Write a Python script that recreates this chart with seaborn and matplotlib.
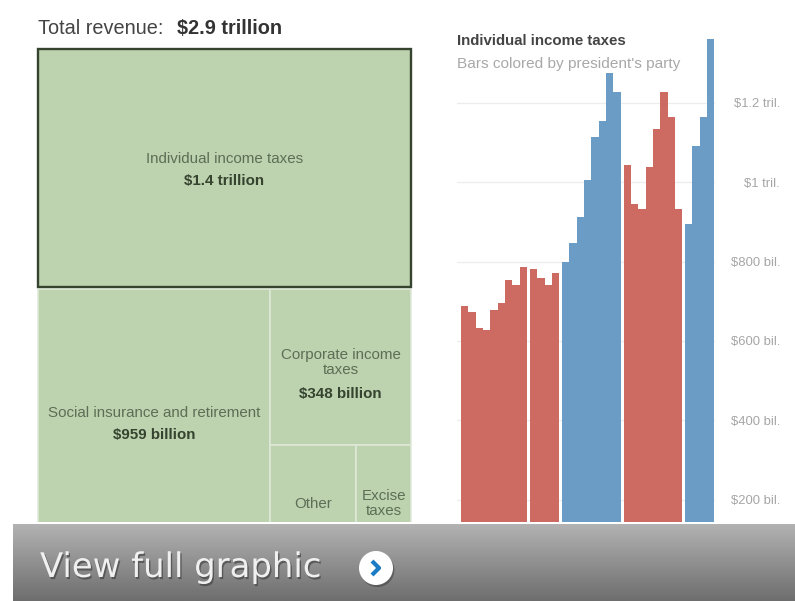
import numpy as np
import pandas as pd
import seaborn as sns
import matplotlib.pyplot as plt
import matplotlib.patheffects as pe
from matplotlib.colors import LinearSegmentedColormap
from matplotlib.patches import Rectangle, Circle

# Revenue by source, in billions of dollars
source_names = ["Individual income taxes", "Social insurance and retirement",
                "Corporate income\ntaxes", "Other", "Excise\ntaxes"]
source_values = [1400, 959, 348, 142, 90]
source_amounts = ["$1.4 trillion", "$959 billion", "$348 billion", "", ""]

# Individual income tax receipts by year, in billions, grouped by presidency
term_parties = ["Republican", "Republican", "Democrat", "Republican", "Democrat"]
term_receipts = [
    [688, 673, 633, 628, 678, 696, 754, 741, 787],
    [781, 759, 741, 771],
    [799, 847, 913, 1006, 1114, 1154, 1276, 1228],
    [1044, 945, 933, 1039, 1134, 1228, 1165, 933],
    [895, 1092, 1165, 1361],
]
tick_values = [200, 400, 600, 800, 1000, 1200]
tick_labels = ["$200 bil.", "$400 bil.", "$600 bil.", "$800 bil.", "$1 tril.", "$1.2 tril."]
party_colors = {"Republican": "#cd6a62", "Democrat": "#6b9cc6"}

W, H = 795, 601
sns.set_theme(style="white")
plt.rcParams["font.family"] = ["Liberation Sans", "DejaVu Sans"]
fig = plt.figure(figsize=(W / 100, H / 100), dpi=100, facecolor="white")


def pixel_axes(left, top, right, bottom, **kw):
    return fig.add_axes([left / W, 1 - bottom / H, (right - left) / W, (bottom - top) / H], **kw)


# Bar panel: terms are separated by a small gap on the numeric x axis
rows = []
position = 0.0
TERM_GAP = 0.37
for party, receipts in zip(term_parties, term_receipts):
    for value in receipts:
        rows.append({"pos": position, "receipts": value, "party": party})
        position += 1
    position += TERM_GAP
bars = pd.DataFrame(rows)

ax = pixel_axes(457, 30, 715.5, 579)
ax.set_facecolor("none")
sns.barplot(data=bars, x="pos", y="receipts", hue="party", palette=party_colors, saturation=1,
            native_scale=True, dodge=False, width=1.0, linewidth=0, legend=False, ax=ax, zorder=3)
unit = 7.35
ax.set_xlim(-0.5 - 4 / unit, bars["pos"].max() + 0.5 + 1 / unit)
ax.set_ylim(0, 549 / 0.3967)
ax.set_xticks([])
ax.set_xlabel("")
ax.set_ylabel("")
ax.yaxis.tick_right()
ax.set_yticks(tick_values, tick_labels)
ax.tick_params(axis="y", length=0, pad=46.5, labelsize=9.4, labelcolor="#a6a6a6")
for label in ax.get_yticklabels():
    label.set_horizontalalignment("right")
ax.grid(axis="y", color="#ececec", linewidth=0.9, zorder=0)
ax.set_axisbelow(True)
sns.despine(ax=ax, left=True, bottom=True, right=True, top=True)

# Overlay in pixel coordinates for the treemap, captions and banner
ov = pixel_axes(0, 0, W, H)
ov.set_xlim(0, W)
ov.set_ylim(H, 0)
ov.axis("off")
ov.patch.set_alpha(0)

ov.text(38, 28, "Total revenue:", fontsize=14.3, color="#444444", va="center")
ov.text(177, 28, "$2.9 trillion", fontsize=14.3, color="#333333", weight="bold", va="center")
ov.text(457, 41, "Individual income taxes", fontsize=10.8, color="#444444", weight="bold", va="center")
ov.text(457, 64, "Bars colored by president's party", fontsize=11.1, color="#a8a8a8", va="center")

# Treemap layout derived from the revenue values
GREEN = "#bdd2ae"
LEFT, RIGHT, TOP = 38.0, 411.0, 49.0
total = sum(source_values)
height = 499.0
first_h = height * source_values[0] / total
rest = total - source_values[0]
split_y = TOP + first_h + 2
rest_h = height - first_h
social_w = (RIGHT - LEFT) * source_values[1] / rest
small = sum(source_values[3:])
right_w = RIGHT - LEFT - social_w
corp_h = rest_h * source_values[2] / (source_values[2] + small)
other_w = right_w * source_values[3] / small
cells = [
    (LEFT, TOP, RIGHT - LEFT, first_h),
    (LEFT, split_y, social_w, rest_h),
    (LEFT + social_w, split_y, right_w, corp_h),
    (LEFT + social_w, split_y + corp_h, other_w, rest_h - corp_h),
    (LEFT + social_w + other_w, split_y + corp_h, right_w - other_w, rest_h - corp_h),
]
name_shift = [0, 3, 5, 0, 0]
for i, ((x, y, w, h), name, amount) in enumerate(zip(cells, source_names, source_amounts)):
    ov.add_patch(Rectangle((x, y), w, h, facecolor=GREEN, edgecolor="#dfe9d8", linewidth=1.1, zorder=1))
    cx, cy = x + w / 2, y + h / 2
    if i == 0:
        ov.add_patch(Rectangle((x, y), w, h, facecolor="none", edgecolor="#35432f", linewidth=1.7, zorder=2))
    n_lines = name.count("\n") + 1
    if amount:
        name_y = cy + name_shift[i] - 9 - 1 * (n_lines - 1)
        ov.text(cx, name_y, name, ha="center", va="center", fontsize=10.9, color="#5c6f56",
                linespacing=1.1, zorder=3)
        ov.text(cx, name_y + 22 + 10 * (n_lines - 1), amount, ha="center", va="center", fontsize=10.9,
                color="#35432f", weight="bold", zorder=3)
    else:
        ov.text(cx, cy + 6, name, ha="center", va="center", fontsize=10.9, color="#5c6f56",
                linespacing=1.1, zorder=3)

# Banner across the bottom
gradient = np.linspace(0, 1, 64).reshape(-1, 1)
ov.add_patch(Rectangle((0, 522), W, 3, facecolor="white", edgecolor="none", zorder=5))
ov.imshow(gradient, extent=(13, W, 601, 524), aspect="auto", zorder=6,
          cmap=LinearSegmentedColormap.from_list("band", ["#b2b2b2", "#6e6e6e"]))
ov.set_xlim(0, W)
ov.set_ylim(H, 0)
ov.add_patch(Rectangle((0, 524), 13, 77, facecolor="white", edgecolor="none", zorder=6))
ov.text(40, 567.5, "View full graphic", fontsize=24.4, family="DejaVu Sans", color="#f0f0f0", va="center", zorder=7,
        path_effects=[pe.withSimplePatchShadow(offset=(1, -1.5), shadow_rgbFace="#444444", alpha=0.7)])
ov.add_patch(Circle((376, 568), 17, facecolor="white", edgecolor="none", zorder=7,
                    path_effects=[pe.withSimplePatchShadow(offset=(1, -1.5), shadow_rgbFace="#444444", alpha=0.6)]))
ov.plot([372, 379, 372], [561, 568, 575], color="#1b7cc4", linewidth=3, zorder=8, solid_capstyle="butt")

fig.savefig("out.png", dpi=100, facecolor="white")
